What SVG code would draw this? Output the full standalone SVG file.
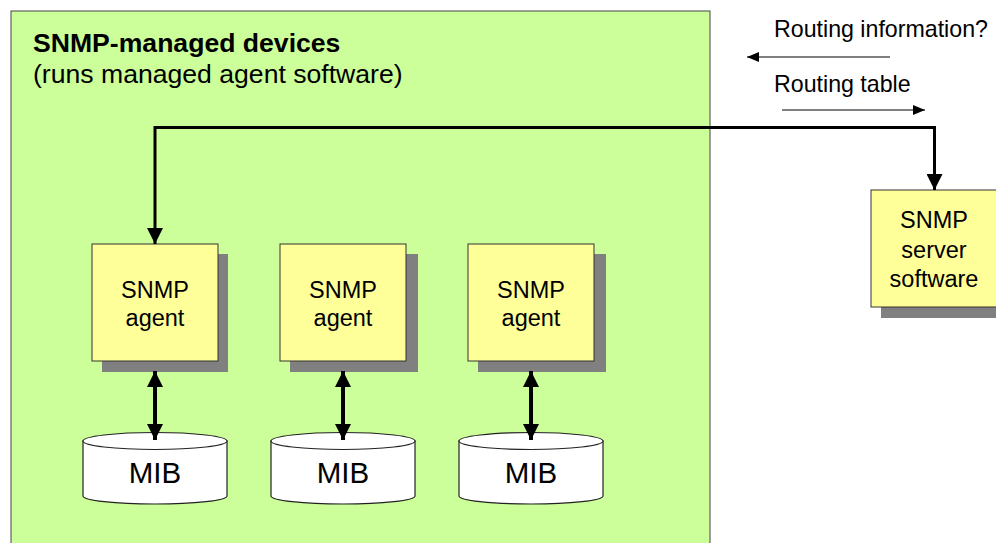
<svg xmlns="http://www.w3.org/2000/svg" width="996" height="543" viewBox="0 0 996 543">
<style>
  text { font-family: "Liberation Sans", Arial, sans-serif; fill: #000; }
  .box { fill: #FFFF99; stroke: #333; stroke-width: 1; }
  .shadow { fill: #808080; }
  .lbl { font-size: 23.5px; text-anchor: middle; }
  .mib { font-size: 29.5px; text-anchor: middle; }
  .cyl { fill: #fff; stroke: #222; stroke-width: 1.2; }
  .thick { fill: none; stroke: #000; stroke-width: 3; }
  .dbl { fill: none; stroke: #000; stroke-width: 4; }
  .thin { fill: none; stroke: #000; stroke-width: 1; }
  .note { font-size: 23.2px; }
</style>
<defs>
  <marker id="ah" markerUnits="userSpaceOnUse" markerWidth="16" markerHeight="16" viewBox="0 0 16 16" refX="16" refY="8" orient="auto-start-reverse">
    <path d="M0,0 L16,8 L0,16 z" fill="#000"/>
  </marker>
  <marker id="sa" markerUnits="userSpaceOnUse" markerWidth="12" markerHeight="10" viewBox="0 0 12 10" refX="12" refY="5" orient="auto">
    <path d="M0,0 L12,5 L0,10 z" fill="#000"/>
  </marker>
</defs>

<g id="devices">
  <rect x="11" y="11" width="699" height="545" fill="#CCFF99" stroke="#444" stroke-width="1"/>
  <text x="33" y="52" style="font-size:26.6px;font-weight:bold">SNMP-managed devices</text>
  <text x="33" y="83" style="font-size:26.6px">(runs managed agent software)</text>
</g>

<g id="agent1">
  <rect class="shadow" x="102" y="254" width="126" height="118"/>
  <rect class="box" x="92" y="244" width="126" height="117"/>
  <text class="lbl" x="155" y="298">SNMP</text>
  <text class="lbl" x="155" y="326">agent</text>
</g>
<g id="agent2">
  <rect class="shadow" x="290" y="254" width="128" height="118"/>
  <rect class="box" x="280" y="244" width="126" height="117"/>
  <text class="lbl" x="343" y="298">SNMP</text>
  <text class="lbl" x="343" y="326">agent</text>
</g>
<g id="agent3">
  <rect class="shadow" x="478" y="254" width="128" height="118"/>
  <rect class="box" x="468" y="244" width="126" height="117"/>
  <text class="lbl" x="531" y="298">SNMP</text>
  <text class="lbl" x="531" y="326">agent</text>
</g>

<g id="mib1">
  <path class="cyl" d="M83,441 L83,496 A72,8 0 0 0 227,496 L227,441 Z"/>
  <ellipse class="cyl" cx="155" cy="441" rx="72" ry="8.5"/>
  <text class="mib" x="155" y="483">MIB</text>
</g>
<g id="mib2">
  <path class="cyl" d="M271,441 L271,496 A72,8 0 0 0 415,496 L415,441 Z"/>
  <ellipse class="cyl" cx="343" cy="441" rx="72" ry="8.5"/>
  <text class="mib" x="343" y="483">MIB</text>
</g>
<g id="mib3">
  <path class="cyl" d="M459,441 L459,496 A72,8 0 0 0 603,496 L603,441 Z"/>
  <ellipse class="cyl" cx="531" cy="441" rx="72" ry="8.5"/>
  <text class="mib" x="531" y="483">MIB</text>
</g>

<g id="server">
  <rect class="shadow" x="881" y="200" width="126" height="118"/>
  <rect class="box" x="871" y="190" width="126" height="117"/>
  <text class="lbl" x="934" y="228">SNMP</text>
  <text class="lbl" x="934" y="258">server</text>
  <text class="lbl" x="934" y="287">software</text>
</g>

<g id="notes">
  <text class="note" x="774" y="37">Routing information?</text>
  <text class="note" x="774" y="92">Routing table</text>
</g>

<g id="connectors">
  <path class="thick" d="M155,244 L155,127.5 L934.5,127.5 L934.5,190" marker-start="url(#ah)" marker-end="url(#ah)"/>
  <path class="dbl" d="M155,371 L155,440" marker-start="url(#ah)" marker-end="url(#ah)"/>
  <path class="dbl" d="M343,371 L343,440" marker-start="url(#ah)" marker-end="url(#ah)"/>
  <path class="dbl" d="M531,371 L531,440" marker-start="url(#ah)" marker-end="url(#ah)"/>
  <path class="thin" d="M890,57 L747,57" marker-end="url(#sa)"/>
  <path class="thin" d="M782,110 L925,110" marker-end="url(#sa)"/>
</g>
</svg>
